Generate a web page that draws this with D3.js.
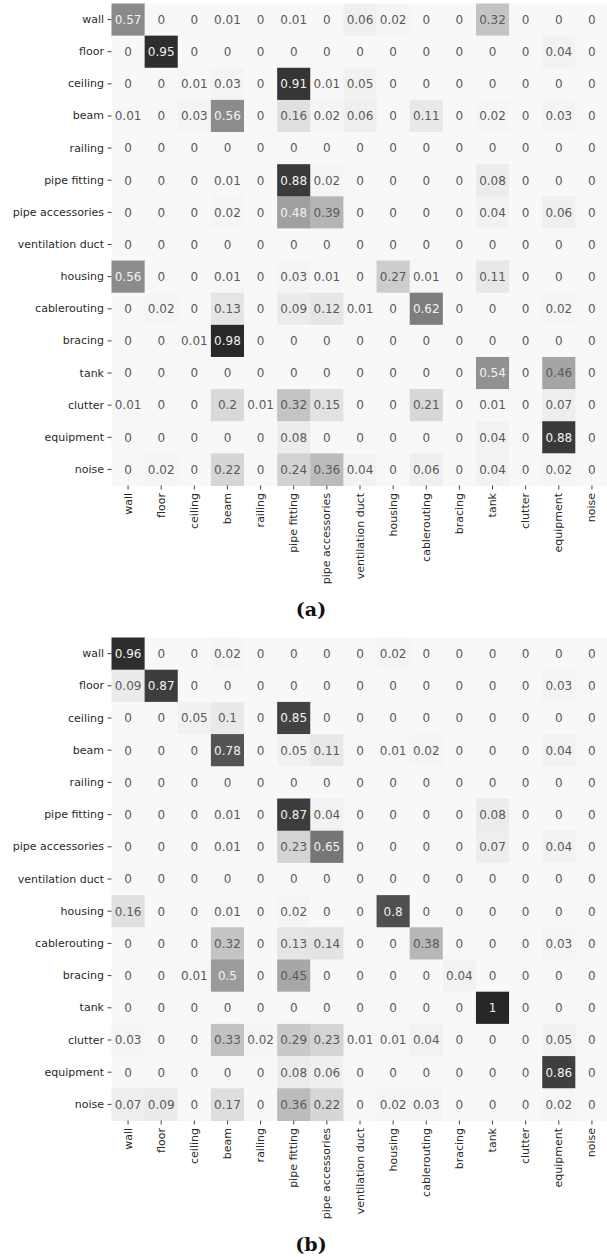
<!DOCTYPE html>
<html>
<head>
<meta charset="utf-8">
<script src="https://cdn.jsdelivr.net/npm/d3@7"></script>
<style>
  html, body { margin: 0; padding: 0; background: #ffffff; }
  svg { display: block; }
</style>
</head>
<body>
<svg id="fig" width="607" height="1257"></svg>
<script>
// Class names shared by both confusion matrices (rows = true, columns = predicted)
const categories = [
  "wall", "floor", "ceiling", "beam", "railing", "pipe fitting", "pipe accessories",
  "ventilation duct", "housing", "cablerouting", "bracing", "tank", "clutter",
  "equipment", "noise"
];

// Normalised confusion matrix (a)
const matrixA = [
  [0.57, 0, 0, 0.01, 0, 0.01, 0, 0.06, 0.02, 0, 0, 0.32, 0, 0, 0],
  [0, 0.95, 0, 0, 0, 0, 0, 0, 0, 0, 0, 0, 0, 0.04, 0],
  [0, 0, 0.01, 0.03, 0, 0.91, 0.01, 0.05, 0, 0, 0, 0, 0, 0, 0],
  [0.01, 0, 0.03, 0.56, 0, 0.16, 0.02, 0.06, 0, 0.11, 0, 0.02, 0, 0.03, 0],
  [0, 0, 0, 0, 0, 0, 0, 0, 0, 0, 0, 0, 0, 0, 0],
  [0, 0, 0, 0.01, 0, 0.88, 0.02, 0, 0, 0, 0, 0.08, 0, 0, 0],
  [0, 0, 0, 0.02, 0, 0.48, 0.39, 0, 0, 0, 0, 0.04, 0, 0.06, 0],
  [0, 0, 0, 0, 0, 0, 0, 0, 0, 0, 0, 0, 0, 0, 0],
  [0.56, 0, 0, 0.01, 0, 0.03, 0.01, 0, 0.27, 0.01, 0, 0.11, 0, 0, 0],
  [0, 0.02, 0, 0.13, 0, 0.09, 0.12, 0.01, 0, 0.62, 0, 0, 0, 0.02, 0],
  [0, 0, 0.01, 0.98, 0, 0, 0, 0, 0, 0, 0, 0, 0, 0, 0],
  [0, 0, 0, 0, 0, 0, 0, 0, 0, 0, 0, 0.54, 0, 0.46, 0],
  [0.01, 0, 0, 0.2, 0.01, 0.32, 0.15, 0, 0, 0.21, 0, 0.01, 0, 0.07, 0],
  [0, 0, 0, 0, 0, 0.08, 0, 0, 0, 0, 0, 0.04, 0, 0.88, 0],
  [0, 0.02, 0, 0.22, 0, 0.24, 0.36, 0.04, 0, 0.06, 0, 0.04, 0, 0.02, 0]
];

// Normalised confusion matrix (b)
const matrixB = [
  [0.96, 0, 0, 0.02, 0, 0, 0, 0, 0.02, 0, 0, 0, 0, 0, 0],
  [0.09, 0.87, 0, 0, 0, 0, 0, 0, 0, 0, 0, 0, 0, 0.03, 0],
  [0, 0, 0.05, 0.1, 0, 0.85, 0, 0, 0, 0, 0, 0, 0, 0, 0],
  [0, 0, 0, 0.78, 0, 0.05, 0.11, 0, 0.01, 0.02, 0, 0, 0, 0.04, 0],
  [0, 0, 0, 0, 0, 0, 0, 0, 0, 0, 0, 0, 0, 0, 0],
  [0, 0, 0, 0.01, 0, 0.87, 0.04, 0, 0, 0, 0, 0.08, 0, 0, 0],
  [0, 0, 0, 0.01, 0, 0.23, 0.65, 0, 0, 0, 0, 0.07, 0, 0.04, 0],
  [0, 0, 0, 0, 0, 0, 0, 0, 0, 0, 0, 0, 0, 0, 0],
  [0.16, 0, 0, 0.01, 0, 0.02, 0, 0, 0.8, 0, 0, 0, 0, 0, 0],
  [0, 0, 0, 0.32, 0, 0.13, 0.14, 0, 0, 0.38, 0, 0, 0, 0.03, 0],
  [0, 0, 0.01, 0.5, 0, 0.45, 0, 0, 0, 0, 0.04, 0, 0, 0, 0],
  [0, 0, 0, 0, 0, 0, 0, 0, 0, 0, 0, 1, 0, 0, 0],
  [0.03, 0, 0, 0.33, 0.02, 0.29, 0.23, 0.01, 0.01, 0.04, 0, 0, 0, 0.05, 0],
  [0, 0, 0, 0, 0, 0.08, 0.06, 0, 0, 0, 0, 0, 0, 0.86, 0],
  [0.07, 0.09, 0, 0.17, 0, 0.36, 0.22, 0, 0.02, 0.03, 0, 0, 0, 0.02, 0]
];

const panelLabels = ["(a)", "(b)"];

// Grey ramp used for cell fills
const greyLevel = d3.scaleLinear()
  .domain([0, 0.16, 0.32, 0.46, 0.57, 0.75, 0.88, 1])
  .range([248, 224, 196, 165, 138, 92, 58, 38])
  .clamp(true);
const fillFor = v => { const g = Math.round(greyLevel(v)); return `rgb(${g},${g},${g})`; };

const svg = d3.select("#fig");
const labelFont = "'DejaVu Sans', sans-serif";

const panels = [
  { data: matrixA, label: panelLabels[0], top: 3.5, bottom: 485.5, captionY: 616 },
  { data: matrixB, label: panelLabels[1], top: 637.5, bottom: 1120.5, captionY: 1251 }
];

const left = 111.5, right = 608.5;

panels.forEach(p => {
  const g = svg.append("g");

  const x = d3.scaleBand().domain(categories).range([left, right]).padding(0);
  const y = d3.scaleBand().domain(categories).range([p.top, p.bottom]).padding(0);

  const cells = [];
  p.data.forEach((row, i) => row.forEach((v, j) => cells.push({ r: categories[i], c: categories[j], v })));

  g.selectAll("rect.cell").data(cells).join("rect")
    .attr("class", "cell")
    .attr("x", d => x(d.c))
    .attr("y", d => y(d.r))
    .attr("width", x.bandwidth() + 0.5)
    .attr("height", y.bandwidth() + 0.5)
    .attr("fill", d => fillFor(d.v));

  g.selectAll("text.val").data(cells).join("text")
    .attr("class", "val")
    .attr("x", d => x(d.c) + x.bandwidth() / 2)
    .attr("y", d => y(d.r) + y.bandwidth() / 2)
    .attr("dy", "0.36em")
    .attr("text-anchor", "middle")
    .attr("font-family", labelFont)
    .attr("font-size", 12)
    .attr("fill", d => d.v >= 0.47 ? "#f2f2f2" : "#5a5a5a")
    .text(d => String(d.v));

  // Row axis on the left
  const yAxis = g.append("g")
    .attr("transform", `translate(${left},0)`)
    .call(d3.axisLeft(y).tickSize(4).tickPadding(3.5));
  yAxis.select(".domain").remove();
  yAxis.selectAll(".tick line").attr("stroke", "#444").attr("stroke-width", 1);
  yAxis.selectAll(".tick text")
    .attr("font-family", labelFont)
    .attr("font-size", 11)
    .attr("fill", "#2a2a2a");

  // Column axis below, labels rotated to read upwards
  const xAxis = g.append("g")
    .attr("transform", `translate(0,${p.bottom})`)
    .call(d3.axisBottom(x).tickSize(4).tickPadding(3.5));
  xAxis.select(".domain").remove();
  xAxis.selectAll(".tick line").attr("stroke", "#444").attr("stroke-width", 1);
  xAxis.selectAll(".tick text")
    .attr("font-family", labelFont)
    .attr("font-size", 11)
    .attr("fill", "#2a2a2a")
    .attr("transform", "rotate(-90)")
    .attr("text-anchor", "end")
    .attr("x", -7.5)
    .attr("y", 0)
    .attr("dy", "0.32em");

  g.append("text")
    .attr("x", 311)
    .attr("y", p.captionY)
    .attr("text-anchor", "middle")
    .attr("font-family", "'DejaVu Serif', serif")
    .attr("font-weight", "bold")
    .attr("font-size", 19)
    .attr("fill", "#111")
    .text(p.label);
});
</script>
</body>
</html>
